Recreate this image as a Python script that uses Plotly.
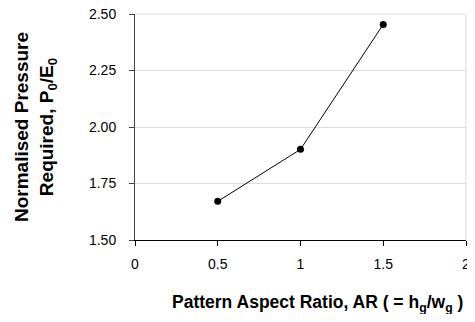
import plotly.graph_objects as go

x_vals = [0.5, 1.0, 1.5]
y_vals = [1.671, 1.901, 2.454]
x_ticks = [0, 0.5, 1, 1.5, 2]
x_tick_labels = ["0", "0.5", "1", "1.5", "2"]
y_ticks = [1.5, 1.75, 2.0, 2.25, 2.5]
y_tick_labels = ["1.50", "1.75", "2.00", "2.25", "2.50"]
x_title = "<b>Pattern Aspect Ratio, AR ( = h<sub>g</sub>/w<sub>g</sub> )</b>"
y_title = "<b>Normalised Pressure<br>Required, P<sub>0</sub>/E<sub>0</sub></b>"

fig = go.Figure()
fig.add_trace(go.Scatter(
    x=x_vals, y=y_vals, mode="lines+markers",
    line=dict(color="#000000", width=1),
    marker=dict(color="#000000", size=7),
    showlegend=False,
    cliponaxis=False,
))

font = dict(family="Liberation Sans, Arial, sans-serif", size=14, color="#000000")

# page body has an 8px margin: figure sized so the page does not scroll
fig.update_layout(
    width=459, height=306,
    margin=dict(l=127, r=1, t=6, b=74),
    paper_bgcolor="white", plot_bgcolor="white",
    font=font,
    xaxis=dict(
        range=[0, 2], tickvals=x_ticks, ticktext=x_tick_labels,
        showgrid=False, zeroline=False, automargin=False,
        showline=True, linecolor="#000000", linewidth=1,
        ticks="outside", ticklen=5, tickcolor="#000000",
        tickfont=dict(size=14), ticklabelstandoff=6,
        ticklabeloverflow="allow",
    ),
    yaxis=dict(
        range=[1.5, 2.5], tickvals=y_ticks, ticktext=y_tick_labels,
        showgrid=True, gridcolor="#dddddd", gridwidth=1,
        zeroline=False, automargin=False,
        showline=True, linecolor="#444444", linewidth=1,
        ticks="outside", ticklen=5, tickcolor="#444444",
        tickfont=dict(size=14), ticklabelstandoff=10,
        ticklabeloverflow="allow",
        title=dict(text=y_title, font=dict(size=19), standoff=30),
    ),
    annotations=[
        dict(text=x_title, xref="paper", yref="paper", x=0.5, y=0,
             xshift=17, yshift=-63, xanchor="center", yanchor="middle",
             showarrow=False, font=dict(size=17.5)),
    ],
    shapes=[
        dict(type="line", xref="paper", yref="paper", x0=0, x1=1, y0=1, y1=1,
             line=dict(color="#dddddd", width=1)),
        dict(type="line", xref="paper", yref="paper", x0=1, x1=1, y0=0, y1=1,
             line=dict(color="#dddddd", width=1)),
    ],
)

fig.write_html("out.html")
